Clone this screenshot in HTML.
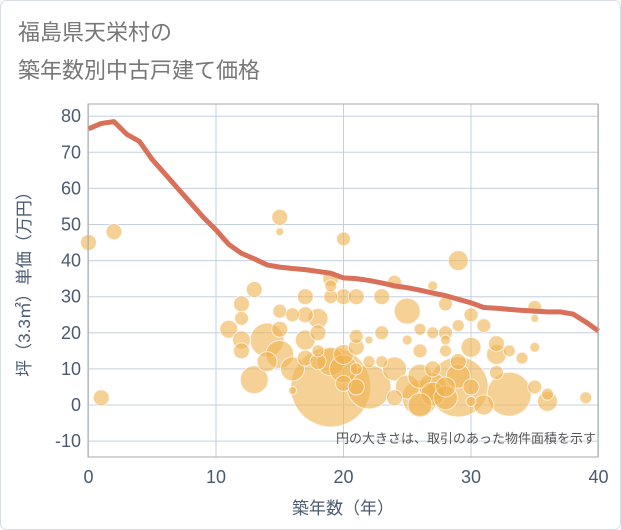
<!DOCTYPE html>
<html><head><meta charset="utf-8"><style>
body{margin:0;background:#fff;}
svg{display:block;font-family:"Liberation Sans","Noto Sans CJK JP",sans-serif;}
</style></head><body>
<svg id="c" width="621" height="530" viewBox="0 0 621 530">
<rect x="0.5" y="0.5" width="620" height="529" rx="6" fill="#fff" stroke="#d8dde3"/>
<text x="18" y="40" font-size="22" fill="#777">福島県天栄村の</text>
<text x="18" y="78" font-size="22" fill="#777">築年数別中古戸建て価格</text>
<g id="grid"></g>
<g id="bubbles"></g>
<g id="line"></g>
<rect x="88" y="104" width="510" height="353" fill="none" stroke="#aaa"/>
<g id="ticks"></g>
<text x="596" y="443" font-size="13" fill="#555" text-anchor="end">円の大きさは、取引のあった物件面積を示す</text>
<text x="343" y="514" font-size="17" fill="#4a5a70" text-anchor="middle">築年数（年）</text>
<text transform="translate(30,280) rotate(-90)" font-size="17" fill="#4a5a70" text-anchor="middle">坪（3.3㎡）単価（万円）</text>
</svg>
<script>
const xTicks=[0,10,20,30,40];
const yTicks=[-10,0,10,20,30,40,50,60,70,80];
const lineAges=[0,1,2,3,4,5,6,7,8,9,10,11,12,13,14,15,16,17,18,19,20,21,22,23,24,25,26,27,28,29,30,31,32,33,34,35,36,37,38,39,40];
const linePrices=[76.5,78,78.5,75,73,68,64,60,56,52,48.5,44.5,42,40.5,38.8,38.2,37.8,37.5,37,36.5,35.2,35,34.5,33.8,33,32.5,31.8,31,30.3,29.3,28.3,27,26.8,26.5,26.2,26,25.8,25.8,25.2,23,20.5];
const bubbleAges=[0,1,2,15,15,20,29,11,12,12,12,12,13,13,14,14,15,15,15,16,16,16,17,17,17,17,18,18,19,19,19,19,18,19,20,20,20,20,21,21,21,21,22,22,22,23,23,24,24,25,25,25,26,26,26,26,27,27,27,27,27,28,28,28,28,29,29,29,29,30,30,30,31,31,32,32,32,33,33,34,35,35,35,35,36,36,39,30,26,24,28,21,18,23,28];
const bubblePrices=[45,2,48,52,48,46,40,21,28,24,18,15,32,7,18,12,14,26,21,25,10,4,30,25,18,13,24,20,5,35,33,30,15,12,30,10,14,6,30,19,16,5,5,18,12,30,20,10,34,26,18,5,21,15,8,2,33,20,10,5,3,28,20,18,15,5,8,22,12,25,16,5,22,0,17,14,9,3,15,13,27,24,16,5,1,3,2,1,0,2,2,10,12,12,5];
const bubbleSizes=[8,8,8,8,4,7,10,9,8,7,9,8,8,14,17,10,14,7,8,7,12,4,8,8,10,8,10,8,40,8,6,7,6,14,8,14,10,8,8,7,8,8,22,4,6,8,7,12,7,13,5,12,6,7,12,18,5,6,8,14,12,7,7,5,6,30,12,6,8,7,10,8,7,10,8,10,7,22,6,6,7,4,5,7,10,6,6,5,12,8,12,6,8,6,10];
const X=v=>88.5+v*12.75, Y=v=>405-v*3.61;
const NS='http://www.w3.org/2000/svg';
function mk(t,a,p){const e=document.createElementNS(NS,t);for(const k in a)e.setAttribute(k,a[k]);p.appendChild(e);return e;}
const grid=document.getElementById('grid'),ticks=document.getElementById('ticks');
xTicks.forEach(t=>{
 const l=mk('line',{x1:X(t),x2:X(t),y1:104,y2:457,stroke:'#c5d0de'},grid);
 
 
 const tx=mk('text',{x:X(t),y:483,'font-size':18,fill:'#4a5a70','text-anchor':'middle'},ticks);
 tx.textContent=t;
 
 
});
yTicks.forEach(t=>{
 const l=mk('line',{x1:88,x2:598,y1:Y(t),y2:Y(t),stroke:'#c5d0de'},grid);
 
 
 const tx=mk('text',{x:81,y:Y(t)+6,'font-size':18,fill:'#4a5a70','text-anchor':'end'},ticks);
 tx.textContent=t;
 
 
});
const bg=document.getElementById('bubbles');
const order=bubbleAges.map((a,i)=>i).sort((a,b)=>bubbleSizes[b]-bubbleSizes[a]);
order.forEach(i=>{
 const c=mk('circle',{cx:X(bubbleAges[i]),cy:Y(bubblePrices[i]),r:bubbleSizes[i],fill:'rgba(240,178,80,0.6)',stroke:'rgba(255,255,255,0.7)','stroke-width':1},bg);
 
 
});
const pl=mk('polyline',{points:lineAges.map((a,i)=>X(a)+','+Y(linePrices[i])).join(' '),fill:'none',stroke:'#d9705a','stroke-width':5,'stroke-linejoin':'round'},document.getElementById('line'));


</script>
</body></html>
